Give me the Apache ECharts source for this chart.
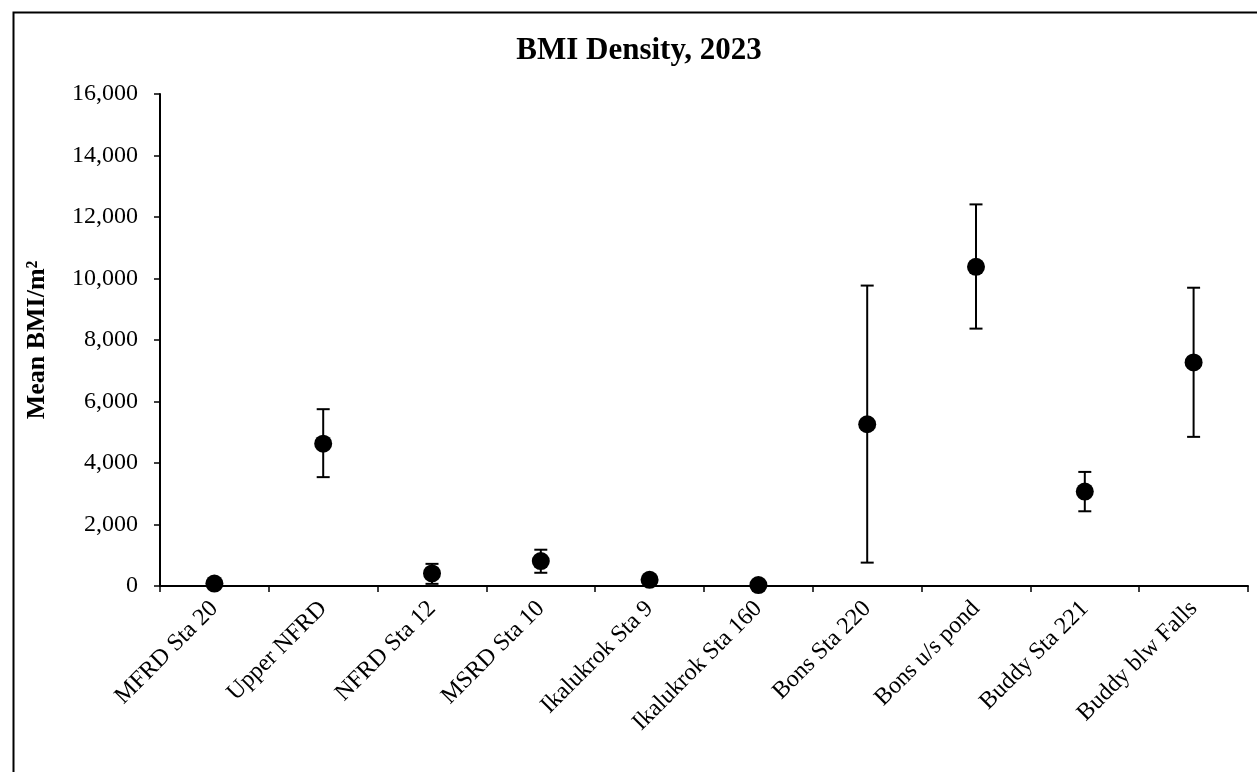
<!DOCTYPE html>
<html>
<head>
<meta charset="utf-8">
<script src="https://cdn.jsdelivr.net/npm/echarts@6/dist/echarts.min.js"></script>
<style>
html,body{margin:0;padding:0;background:#fff;}
#chart{width:1257px;height:772px;}
</style>
</head>
<body>
<div id="chart"></div>
<script>
const categories = ['MFRD Sta 20','Upper NFRD','NFRD Sta 12','MSRD Sta 10','Ikalukrok Sta 9','Ikalukrok Sta 160','Bons Sta 220','Bons u/s pond','Buddy Sta 221','Buddy blw Falls'];
const meanValues = [80, 4630, 410, 810, 200, 30, 5260, 10380, 3070, 7270];
const lowerValues = [40, 3540, 70, 430, 150, 10, 760, 8370, 2430, 4850];
const upperValues = [120, 5750, 720, 1180, 250, 50, 9770, 12410, 3710, 9700];
const yTicks = [0, 2000, 4000, 6000, 8000, 10000, 12000, 14000, 16000];

const FONT = "'Liberation Serif','Times New Roman',serif";
const chart = echarts.init(document.getElementById('chart'), null, {renderer:'canvas'});

const errData = categories.map((c, i) => [i, lowerValues[i], upperValues[i]]);

const option = {
  backgroundColor: '#fff',
  animation: false,
  title: {
    text: 'BMI Density, 2023',
    left: 634, top: 30, textAlign: 'center',
    textStyle: {fontFamily: FONT, fontWeight: 'bold', fontSize: 31, color: '#000'}
  },
  graphic: [{
    type: 'rect', left: 11, top: 10, silent: true,
    shape: {width: 1300, height: 800},
    style: {fill: 'none', stroke: '#000', lineWidth: 2}
  }],
  grid: {left: 160, right: 9, top: 94, bottom: 186},
  xAxis: {
    type: 'category',
    data: categories,
    boundaryGap: true,
    axisLine: {lineStyle: {color: '#000', width: 2}},
    axisTick: {show: true, inside: false, length: 6, lineStyle: {color: '#000', width: 1.5}, alignWithLabel: false},
    axisLabel: {rotate: 45, margin: 19, interval: 0, fontFamily: FONT, fontSize: 24, color: '#000'},
    splitLine: {show: false}
  },
  yAxis: {
    type: 'value',
    min: yTicks[0], max: yTicks[yTicks.length - 1], interval: 2000,
    name: 'Mean BMI/m²',
    nameLocation: 'middle', nameGap: 110,
    nameTextStyle: {fontFamily: FONT, fontWeight: 'bold', fontSize: 26, color: '#000'},
    axisLine: {show: true, lineStyle: {color: '#000', width: 2}},
    axisTick: {show: true, inside: false, length: 6, lineStyle: {color: '#000', width: 1.5}},
    axisLabel: {margin: 22, fontFamily: FONT, fontSize: 24, color: '#000',
      formatter: v => v.toLocaleString('en-US')},
    splitLine: {show: false}
  },
  series: [
    {
      type: 'custom',
      z: 2,
      data: errData,
      renderItem: function (params, api) {
        const x = api.value(0);
        const lo = api.coord([x, api.value(1)]);
        const hi = api.coord([x, api.value(2)]);
        const half = 6.5;
        const st = {stroke: '#000', lineWidth: 2};
        return {
          type: 'group',
          children: [
            {type: 'line', shape: {x1: lo[0], y1: lo[1], x2: hi[0], y2: hi[1]}, style: st},
            {type: 'line', shape: {x1: lo[0] - half, y1: lo[1], x2: lo[0] + half, y2: lo[1]}, style: st},
            {type: 'line', shape: {x1: hi[0] - half, y1: hi[1], x2: hi[0] + half, y2: hi[1]}, style: st}
          ]
        };
      }
    },
    {
      type: 'scatter',
      z: 3,
      data: meanValues,
      symbol: 'circle',
      symbolSize: 18,
      itemStyle: {color: '#000', opacity: 1}
    }
  ]
};
chart.setOption(option);
</script>
</body>
</html>
